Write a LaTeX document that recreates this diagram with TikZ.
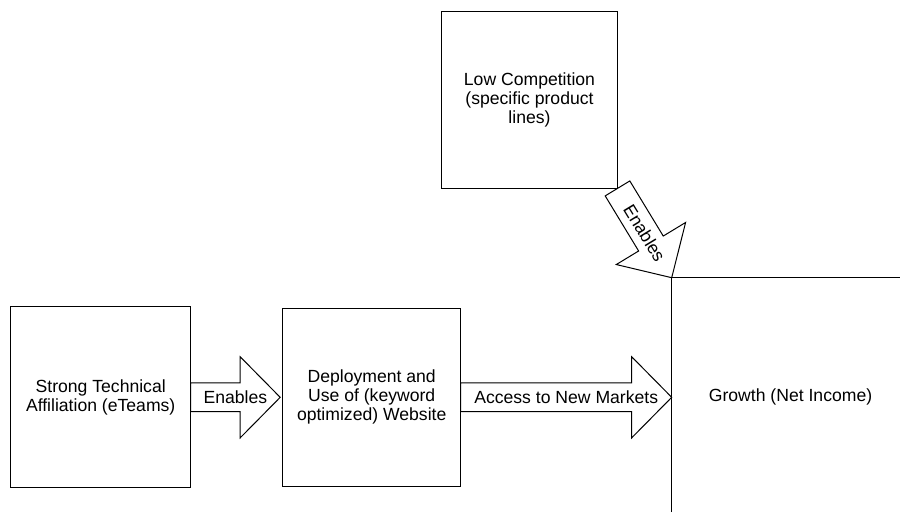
\documentclass[tikz,border=0pt]{standalone}
\usepackage{fontspec}
\setmainfont{Liberation Sans}
\usetikzlibrary{calc}

\tikzset{
  basefont/.style={font=\fontsize{13.2}{14.25}\selectfont},
  box/.style={draw=black, fill=white, line width=0.75pt, align=center,
    inner sep=0pt, outer sep=0pt, basefont},
  arrowshape/.style={draw=black, fill=white, line width=0.75pt, line join=miter},
  arrowlabel/.style={basefont, inner sep=0pt},
  edge/.style={draw=black, line width=0.75pt},
}

% Block arrow from #1 to #2 (tip), carrying the label #3
\newcommand{\blockarrow}[3]{%
  \coordinate (ba-head) at ($(#2)!30pt!(#1)$);
  \draw[arrowshape]
    ($(#1)!10.8pt!90:(#2)$) -- ($(ba-head)!10.8pt!90:(#2)$) --
    ($(ba-head)!30.4pt!90:(#2)$) -- (#2) --
    ($(ba-head)!30.4pt!-90:(#2)$) -- ($(ba-head)!10.8pt!-90:(#2)$) --
    ($(#1)!10.8pt!-90:(#2)$) -- cycle;
  \path (#1) -- (#2) node[midway, sloped, arrowlabel] {#3};
}

\begin{document}
\begin{tikzpicture}[x=0.75pt, y=-0.75pt]
  \useasboundingbox (0,0) coordinate (nw) rectangle (900,512) coordinate (se);

  % boxes
  \node[box, minimum width=135pt, minimum height=135.75pt] (strong) at (100.7,397.3)
    {Strong Technical\\Affiliation (eTeams)};
  \node[box, minimum width=133.5pt, minimum height=133.5pt] (deploy) at (371.7,397.3)
    {Deployment and\\Use of (keyword\\optimized) Website};
  \coordinate (lcse) at (617.5,188.4);
  \node[box, minimum width=132pt, minimum height=132.75pt, anchor=south east] (lowcomp) at (lcse)
    {Low Competition\\(specific product\\lines)};

  % growth area: two bounding edges and its label
  \coordinate (gc) at (671.7,277.7);
  \draw[edge] (gc |- se) -- (gc) -- (gc -| se);
  \node[arrowlabel] (growth) at (790.5,397) {Growth (Net Income)};

  % block arrows
  \coordinate (a1tip) at ($(deploy.west)+(-2.5,0)$);
  \blockarrow{strong.east}{a1tip}{Enables}
  \coordinate (a2tip) at (gc |- deploy.east);
  \blockarrow{deploy.east}{a2tip}{Access to New Markets}
  \blockarrow{lcse}{gc}{Enables}
\end{tikzpicture}
\end{document}
